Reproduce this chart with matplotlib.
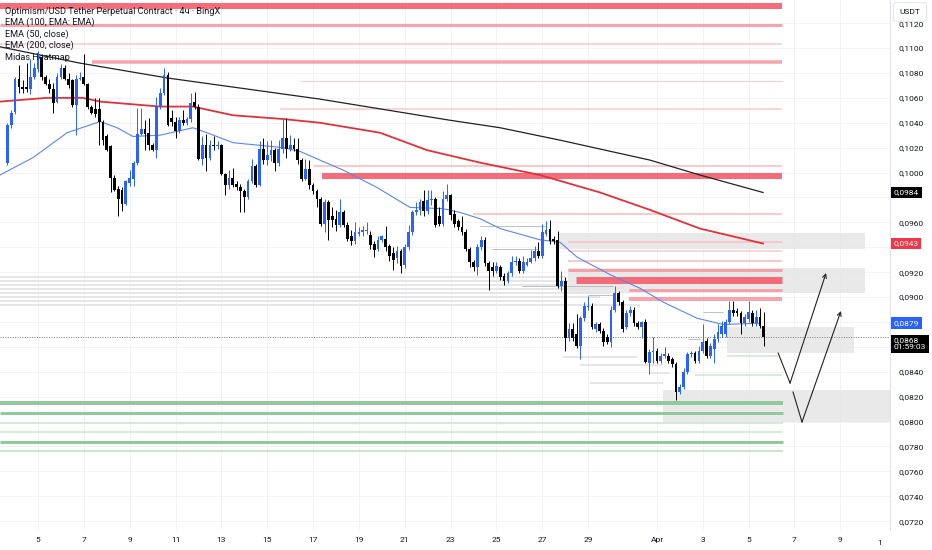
import numpy as np
import matplotlib
matplotlib.use("Agg")
import matplotlib.pyplot as plt
from matplotlib.patches import Rectangle

plt.rcParams['font.family'] = ['Roboto', 'DejaVu Sans']

# ---- 4h candles, OP/USDT (BingX), Mar 3 16:00 -> Apr 5 16:00 ----
opens = [
    .1008, .1038, .1049, .1075, .1069, .1069, .1067, .1077, .1083, .1093,
    .1077, .1071, .1067, .1057, .1077, .1084, .1075, .1074, .1054, .1075,
    .1077, .1071, .1053, .1051, .1051, .1041, .1029, .1021, .0996, .0987,
    .0986, .0975, .0992, .0995, .1008, .1031, .1035, .1032, .1022, .1018,
    .1053, .1064, .1078, .1044, .1041, .1033, .1042, .1040, .1043, .1057,
    .1053, .1011, .1022, .1012, .1022, .1021, .1022, .0999, .0990, .0996,
    .0991, .0988, .0985, .0980, .0993, .1005, .0990, .1019, .1010, .1014,
    .1018, .1008, .1019, .1028, .1019, .1022, .1019, .1010, .0995, .1003,
    .0990, .0985, .0979, .0959, .0976, .0965, .0963, .0958, .0968, .0958,
    .0949, .0945, .0951, .0952, .0953, .0950, .0943, .0939, .0946, .0947,
    .0941, .0935, .0931, .0937, .0926, .0940, .0952, .0968, .0970, .0977,
    .0969, .0978, .0979, .0965, .0959, .0979, .0982, .0967, .0961, .0956,
    .0952, .0939, .0928, .0924, .0940, .0946, .0927, .0924, .0921, .0924,
    .0917, .0913, .0919, .0928, .0929, .0921, .0926, .0928, .0931, .0937,
    .0933, .0951, .0955, .0947, .0946, .0909, .0913, .0867, .0874, .0870,
    .0861, .0883, .0892, .0893, .0874, .0878, .0873, .0868, .0864, .0890,
    .0903, .0896, .0876, .0887, .0890, .0879, .0876, .0880, .0847, .0856,
    .0857, .0849, .0853, .0853, .0850, .0846, .0824, .0828, .0840, .0854,
    .0855, .0849, .0857, .0865, .0853, .0858, .0866, .0870, .0870, .0880,
    .0890, .0889, .0887, .0879, .0882, .0887, .0879, .0884, .0877]
highs = [
    .1040, .1050, .1077, .1086, .1074, .1088, .1091, .1088, .1098, .1095,
    .1078, .1075, .1072, .1080, .1087, .1086, .1080, .1075, .1078, .1081,
    .1095, .1072, .1054, .1060, .1060, .1042, .1031, .1022, .0998, .0989,
    .0988, .0994, .1002, .1009, .1052, .1052, .1042, .1044, .1024, .1061,
    .1068, .1084, .1081, .1050, .1045, .1045, .1050, .1045, .1064, .1065,
    .1055, .1029, .1031, .1026, .1029, .1025, .1023, .1000, .1002, .1004,
    .0993, .0991, .0987, .0995, .1011, .1007, .1025, .1028, .1025, .1026,
    .1020, .1026, .1044, .1044, .1030, .1028, .1028, .1012, .1011, .1010,
    .0992, .0987, .0980, .0979, .0978, .0972, .0970, .0979, .0970, .0960,
    .0954, .0960, .0956, .0957, .0960, .0953, .0945, .0949, .0950, .0957,
    .0943, .0940, .0941, .0939, .0943, .0958, .0970, .0976, .0979, .0986,
    .0986, .0986, .0980, .0972, .0985, .0991, .0983, .0970, .0963, .0965,
    .0955, .0940, .0930, .0943, .0949, .0948, .0929, .0928, .0928, .0926,
    .0919, .0921, .0933, .0933, .0931, .0933, .0931, .0938, .0941, .0944,
    .0959, .0961, .0962, .0949, .0953, .0921, .0916, .0879, .0879, .0886,
    .0885, .0896, .0901, .0895, .0880, .0880, .0875, .0870, .0893, .0909,
    .0905, .0898, .0890, .0893, .0892, .0881, .0881, .0882, .0858, .0868,
    .0859, .0855, .0860, .0855, .0852, .0848, .0830, .0843, .0856, .0857,
    .0857, .0861, .0878, .0867, .0863, .0870, .0878, .0881, .0882, .0897,
    .0897, .0891, .0889, .0886, .0897, .0890, .0890, .0891, .0888]
lows = [
    .1006, .1036, .1047, .1064, .1064, .1065, .1063, .1075, .1081, .1074,
    .1070, .1064, .1048, .1056, .1075, .1074, .1068, .1053, .1030, .1074,
    .1070, .1051, .1047, .1045, .1022, .1022, .1017, .0984, .0985, .0965,
    .0969, .0974, .0989, .0989, .1006, .1030, .1018, .1018, .1017, .1012,
    .1051, .1062, .1037, .1037, .1028, .1032, .1038, .1038, .1041, .1051,
    .1010, .1006, .1001, .1010, .1018, .1019, .0998, .0982, .0987, .0988,
    .0986, .0968, .0968, .0979, .0992, .0988, .0989, .1007, .1006, .1009,
    .1001, .1005, .1016, .1012, .1017, .1017, .1007, .0993, .0994, .0987,
    .0983, .0972, .0957, .0952, .0946, .0956, .0953, .0956, .0956, .0945,
    .0942, .0943, .0949, .0949, .0951, .0939, .0932, .0937, .0944, .0937,
    .0929, .0922, .0927, .0919, .0923, .0938, .0950, .0966, .0966, .0965,
    .0967, .0974, .0956, .0957, .0957, .0977, .0962, .0956, .0954, .0950,
    .0937, .0924, .0921, .0918, .0938, .0925, .0906, .0917, .0919, .0914,
    .0910, .0911, .0917, .0926, .0919, .0919, .0925, .0927, .0929, .0931,
    .0931, .0949, .0943, .0943, .0907, .0905, .0857, .0865, .0865, .0859,
    .0850, .0881, .0890, .0874, .0872, .0871, .0861, .0862, .0860, .0888,
    .0894, .0872, .0874, .0885, .0877, .0874, .0867, .0847, .0838, .0847,
    .0847, .0847, .0851, .0847, .0844, .0817, .0822, .0826, .0838, .0852,
    .0847, .0847, .0855, .0851, .0851, .0847, .0864, .0868, .0868, .0878,
    .0885, .0885, .0870, .0877, .0880, .0877, .0877, .0875, .0861]
closes = [
    .1038, .1048, .1075, .1069, .1067, .1067, .1077, .1084, .1094, .1077,
    .1071, .1067, .1056, .1077, .1084, .1075, .1070, .1054, .1075, .1076,
    .1071, .1053, .1048, .1047, .1041, .1026, .1018, .0996, .0986, .0979,
    .0975, .0993, .0996, .1008, .1031, .1035, .1031, .1022, .1018, .1053,
    .1064, .1078, .1038, .1041, .1033, .1042, .1040, .1043, .1056, .1053,
    .1011, .1022, .1012, .1022, .1021, .1022, .0999, .0990, .0996, .0990,
    .0988, .0985, .0980, .0993, .1005, .0990, .1019, .1010, .1014, .1018,
    .1008, .1019, .1028, .1019, .1022, .1019, .1010, .0995, .1003, .0990,
    .0985, .0979, .0959, .0976, .0962, .0962, .0958, .0968, .0958, .0947,
    .0945, .0952, .0952, .0954, .0954, .0942, .0938, .0946, .0949, .0940,
    .0933, .0930, .0937, .0925, .0940, .0952, .0968, .0970, .0976, .0969,
    .0978, .0979, .0958, .0959, .0979, .0982, .0966, .0959, .0956, .0952,
    .0939, .0928, .0924, .0940, .0946, .0927, .0921, .0921, .0925, .0916,
    .0913, .0919, .0928, .0929, .0921, .0928, .0928, .0931, .0937, .0933,
    .0952, .0954, .0945, .0945, .0909, .0913, .0867, .0874, .0867, .0861,
    .0883, .0893, .0893, .0876, .0878, .0873, .0864, .0864, .0890, .0903,
    .0896, .0874, .0887, .0890, .0879, .0876, .0880, .0848, .0856, .0857,
    .0849, .0853, .0854, .0849, .0846, .0824, .0828, .0840, .0854, .0855,
    .0849, .0857, .0864, .0853, .0861, .0866, .0872, .0877, .0880, .0890,
    .0887, .0887, .0879, .0884, .0888, .0879, .0884, .0877, .0868]
last_bar_day = 36 + 16 / 24   # Apr 5, 16:00 (day count from Mar 0)

# ---- EMAs (day, price) ----
ema200_day = [3.34, 6.8, 10.63, 17.30, 22.98, 25.16, 27.78, 31.70, 33.88, 36.63]
ema200_val = [.1101, .1088, .1076, .1059, .1042, .1036, .1026, .1010, .0998, .0984]
ema100_day = [3.34, 5.39, 6.96, 7.71, 10.32, 11.76, 13.51, 15.69, 17.30, 19.92,
              21.97, 24.28, 26.90, 29.52, 31.70, 33.88, 36.63]
ema100_val = [.1057, .1060, .1060, .1057, .1053, .1053, .1046, .1043, .1040, .1032,
              .1018, .1008, .0998, .0984, .0970, .0955, .0943]
ema50_day = [3.34, 4.78, 6.27, 7.71, 8.45, 9.14, 10.32, 11.76, 12.37, 13.51,
             15.69, 16.43, 17.30, 18.31, 19.79, 21.23, 22.67, 23.41, 24.28, 25.16,
             26.90, 27.78, 28.52, 29.96, 31.27, 32.27, 33.75, 34.89, 36.50]
ema50_val = [.0998, .1012, .1032, .1041, .1036, .1029, .1030, .1036, .1032, .1024,
             .1020, .1017, .1010, .1002, .0988, .0972, .0971, .0968, .0963, .0955,
             .0946, .0944, .0932, .0918, .0907, .0896, .0883, .0878, .0879]

# ---- Midas heatmap levels ----
heat_end = 37.46
red_levels = [.11341, .11189, .11036, .10888, .10735, .10510, .10052, .09972,
              .09667, .09442, .09369, .09289, .09217, .09137, .09056, .08984]
red_start = [3.34, 3.34, 3.34, 7.36, 16.43, 15.56, 17.04, 17.39,
             23.98, 28.12, 28.12, 28.12, 28.12, 28.47, 30.79, 30.79]
red_strength = [6, 3, 1.5, 3.5, 1, 1.5, 2, 6, 2, 2, 1.5, 2, 3, 7, 3, 4]

green_levels = [.08149, .08071, .07990, .07916, .07838, .07765, .08526, .08376]
green_start = [3.34, 3.34, 3.34, 3.34, 3.34, 3.34, 35.06, 33.67]
green_end = [37.51, 37.51, 37.51, 37.51, 37.51, 37.51, 37.29, 37.46]
green_strength = [4, 3, 1.5, 1.5, 3, 2, 1.5, 1.5]

grey_levels = [.09161, .09129, .09096, .09064, .09032, .09000, .08968, .08936,
               .08518, .08454, .08309, .08390]
grey_start = [3.34] * 8 + [27.91, 28.65, 29.08, 31.70]
grey_end = [27.99, 28.43, 27.78, 29.52, 29.96, 29.52, 27.78, 31.27,
            31.13, 32.27, 32.27, 32.57]

mark_levels = [.09570, .09386, .09088, .09016, .08663, .08880]
mark_start = [24.28, 24.81, 26.12, 28.99, 33.36, 34.01]
mark_end = [27.12, 26.82, 30.09, 30.09, 33.88, 34.89]

# grey zones (rectangles)
box_x0 = [27.69, 28.12, 35.06, 32.27]
box_x1 = [41.08, 41.08, 40.60, 42.22]
box_lo = [.09386, .09032, .08550, .07996]
box_hi = [.09514, .09233, .08759, .08253]

# drawn projection paths
path1_day = [37.29, 37.81, 39.38]
path1_val = [.08550, .08309, .09193]
path2_day = [37.94, 38.33, 40.03]
path2_val = [.08237, .07996, .08888]

xtick_days = [5, 7, 9, 11, 13, 15, 17, 19, 21, 23, 25, 27, 29, 32, 34, 36, 38, 40]
xtick_labels = ['5', '7', '9', '11', '13', '15', '17', '19', '21', '23', '25', '27',
                '29', 'Apr', '3', '5', '7', '9']

last_price = 0.0868
ema50_last, ema100_last, ema200_last = 0.0879, 0.0943, 0.0984

BLUE = '#2962ff'
BLACK = '#000000'
TXT = '#131722'
FS = 6.0

fig = plt.figure(figsize=(9.32, 5.5), dpi=100)
ax = fig.add_axes([0, 20 / 550, 890 / 932, 530 / 550])
ax.set_xlim(3.342, 42.17)
ax.set_ylim(0.07129, 0.11386)

# grid
yticks = np.round(np.arange(0.0720, 0.11201, 0.0020), 4)
for y in yticks:
    ax.axhline(y, color='#f3f3f5', lw=0.7, zorder=0)
for x in xtick_days:
    ax.axvline(x, color='#f3f3f5', lw=0.7, zorder=0)

# zones
for x0, x1, lo, hi in zip(box_x0, box_x1, box_lo, box_hi):
    ax.add_patch(Rectangle((x0, lo), x1 - x0, hi - lo, fc='#e4e4e4', ec='none',
                           alpha=0.8, zorder=0.5))

# heatmap lines
px = 0.72
for lvl, st, s in zip(red_levels, red_start, red_strength):
    if s >= 5:
        col, a = '#f45d6b', 0.9
    elif s >= 3:
        col, a = '#f6959e', 0.85
    else:
        col, a = '#f8c3c8', 0.9
    ax.hlines(lvl, st, heat_end, color=col, lw=s * px, alpha=a, zorder=1)
for lvl, st, en, s in zip(green_levels, green_start, green_end, green_strength):
    col = '#92c99c' if s >= 3 else '#cbe5cf'
    ax.hlines(lvl, st, en, color=col, lw=s * px, zorder=1)
for lvl, st, en in zip(grey_levels, grey_start, grey_end):
    ax.hlines(lvl, st, en, color='#e6e6e8', lw=2 * px, zorder=1)
for lvl, st, en in zip(mark_levels, mark_start, mark_end):
    ax.hlines(lvl, st, en, color='#b2b5be', lw=0.6, zorder=1.2)

# EMAs
ax.plot(ema200_day, ema200_val, color='#222222', lw=0.9, zorder=3)
ax.plot(ema100_day, ema100_val, color='#e0323c', lw=1.3, zorder=3)
ax.plot(ema50_day, ema50_val, color='#5c86ec', lw=0.8, zorder=3)

# candles
o = np.array(opens)
h = np.array(highs)
l = np.array(lows)
c = np.array(closes)
n = len(c)
t = last_bar_day - (n - 1 - np.arange(n)) / 6.0
cols = np.where(c > o, BLUE, BLACK)
ax.vlines(t, l, h, colors=cols, lw=0.7, zorder=4)
body_lo = np.minimum(o, c)
body_h = np.maximum(np.abs(c - o), 0.00003)
ax.bar(t, body_h, width=0.12, bottom=body_lo, color=cols, lw=0, zorder=5)

# last price line
ax.axhline(last_price, color='#787b86', lw=0.7, ls=(0, (1, 1.5)), zorder=2)

# projection arrows
for dx, dy in ((path1_day, path1_val), (path2_day, path2_val)):
    ax.plot(dx[:2], dy[:2], color='#222222', lw=0.8, zorder=6)
    ax.annotate('', xy=(dx[2], dy[2]), xytext=(dx[1], dy[1]),
                arrowprops=dict(arrowstyle='->', color='#222222', lw=0.8,
                                shrinkA=0, shrinkB=0, mutation_scale=7), zorder=6)

# axes styling
for s in ['top', 'left', 'bottom']:
    ax.spines[s].set_visible(False)
ax.spines['right'].set_color('#e0e3eb')
ax.spines['right'].set_linewidth(0.8)
ax.yaxis.tick_right()
hidden = {0.0980, 0.0940, 0.0880, 0.0860}
ax.set_yticks(yticks)
ax.set_yticklabels(['' if round(v, 4) in hidden else f'{v:.4f}'.replace('.', ',')
                    for v in yticks])
ax.tick_params(axis='y', length=0, pad=6, labelsize=FS, labelcolor=TXT)
ax.set_xticks(xtick_days)
ax.set_xticklabels(xtick_labels)
ax.tick_params(axis='x', length=0, pad=5, labelsize=FS, labelcolor=TXT)
ax.text(41.72, -0.0185, '1', transform=ax.get_xaxis_transform(), fontsize=FS,
        color=TXT, ha='center', va='top')

# price tags on the scale
tag_kw = dict(xycoords=('axes fraction', 'data'), ha='left', va='center',
              fontsize=FS, color='white', annotation_clip=False, zorder=10)
ax.annotate('0,0984', xy=(1.004, ema200_last),
            bbox=dict(boxstyle='square,pad=0.35', fc='#000000', ec='none'), **tag_kw)
ax.annotate('0,0943', xy=(1.004, ema100_last),
            bbox=dict(boxstyle='square,pad=0.35', fc='#f23645', ec='none'), **tag_kw)
ax.annotate('0,0879', xy=(1.004, ema50_last),
            bbox=dict(boxstyle='square,pad=0.35', fc=BLUE, ec='none'), **tag_kw)
ax.annotate('0,0868\n01:59:03', xy=(1.004, last_price - 0.00055), linespacing=1.1,
            bbox=dict(boxstyle='square,pad=0.35', fc='#000000', ec='none'), **tag_kw)

fig.text(910 / 932, 1 - 12 / 550, 'USDT', fontsize=FS, color=TXT, ha='center',
         va='center', zorder=10,
         bbox=dict(boxstyle='round,pad=0.75,rounding_size=0.25', fc='white',
                   ec='#e0e3eb', lw=0.7))

# legend
legend = ['Optimism/USD Tether Perpetual Contract · 4ч · BingX',
          'EMA (100, EMA: EMA)', 'EMA (50, close)', 'EMA (200, close)', 'Midas Heatmap']
for k, s in enumerate(legend):
    fig.text(5 / 932, 1 - (11 + 11.5 * k) / 550, s, fontsize=6.6, color=TXT,
             ha='left', va='center', zorder=10)

fig.savefig('out.png', dpi=100, facecolor='white')
